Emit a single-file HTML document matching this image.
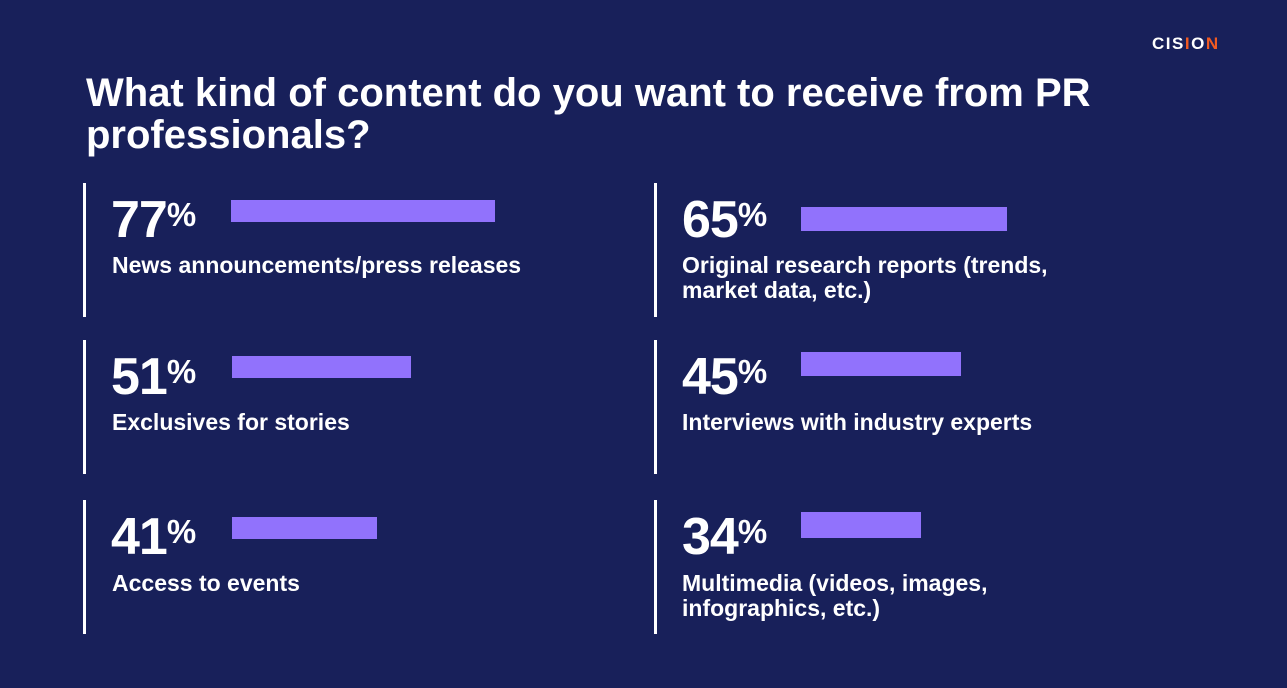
<!DOCTYPE html>
<html><head><style>
body{margin:0;width:1287px;height:688px;background:#18205a;position:relative;overflow:hidden;font-family:"Liberation Sans",Arial,sans-serif;color:#fff;font-weight:bold}
div{position:absolute}
.t{left:86px;top:72px;font-size:40px;line-height:42px;width:1150px}
.v{width:3px;background:#fff;height:134px}
.n{font-size:52px;line-height:52px;letter-spacing:-1px}
.n sup{font-size:33px;vertical-align:top;position:relative;top:-5px;letter-spacing:0}
.b{background:#9172fc}
.l{font-size:23px;line-height:25px}
</style></head><body>
<div style="left:1152px;top:34px;font-size:17px;letter-spacing:1.5px;font-weight:bold">CIS<span style="color:#f05a22">I</span>O<span style="color:#f05a22">N</span></div>
<div class="t">What kind of content do you want to receive from PR professionals?</div>

<div class="v" style="left:83px;top:183px"></div>
<div class="v" style="left:83px;top:340px"></div>
<div class="v" style="left:83px;top:500px"></div>
<div class="v" style="left:654px;top:183px"></div>
<div class="v" style="left:654px;top:340px"></div>
<div class="v" style="left:654px;top:500px"></div>

<div class="n" style="left:111px;top:194px">77<sup>%</sup></div>
<div class="b" style="left:231px;top:200px;width:264px;height:22px"></div>
<div class="l" style="left:112px;top:253px">News announcements/press releases</div>

<div class="n" style="left:111px;top:351px">51<sup>%</sup></div>
<div class="b" style="left:232px;top:356px;width:179px;height:22px"></div>
<div class="l" style="left:112px;top:410px">Exclusives for stories</div>

<div class="n" style="left:111px;top:511px">41<sup>%</sup></div>
<div class="b" style="left:232px;top:517px;width:145px;height:22px"></div>
<div class="l" style="left:112px;top:571px">Access to events</div>

<div class="n" style="left:682px;top:194px">65<sup>%</sup></div>
<div class="b" style="left:801px;top:207px;width:206px;height:24px"></div>
<div class="l" style="left:682px;top:253px">Original research reports (trends,<br>market data, etc.)</div>

<div class="n" style="left:682px;top:351px">45<sup>%</sup></div>
<div class="b" style="left:801px;top:352px;width:160px;height:24px"></div>
<div class="l" style="left:682px;top:410px">Interviews with industry experts</div>

<div class="n" style="left:682px;top:511px">34<sup>%</sup></div>
<div class="b" style="left:801px;top:512px;width:120px;height:26px"></div>
<div class="l" style="left:682px;top:571px">Multimedia (videos, images,<br>infographics, etc.)</div>
</body></html>
